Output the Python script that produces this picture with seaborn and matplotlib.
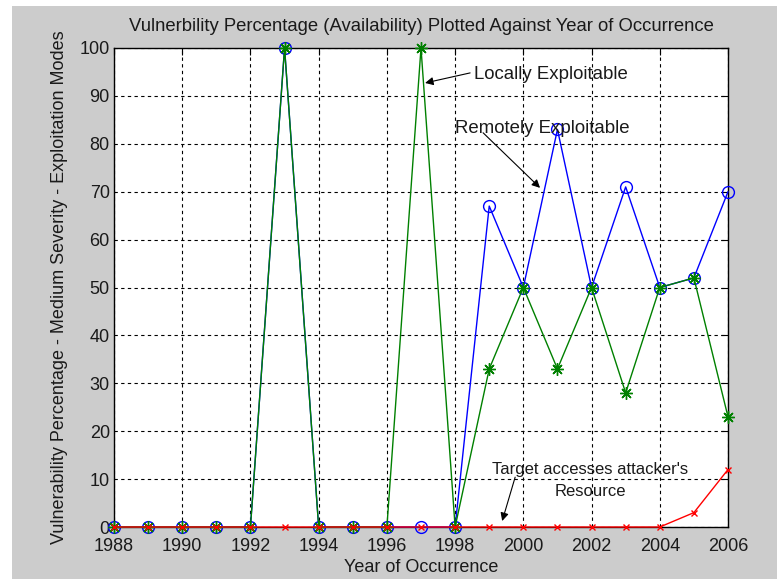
import matplotlib
matplotlib.use("Agg")
import matplotlib.pyplot as plt
import seaborn as sns
from matplotlib.patches import Rectangle

years = list(range(1988, 2007))
remote = [0, 0, 0, 0, 0, 100, 0, 0, 0, 0, 0, 67, 50, 83, 50, 71, 50, 52, 70]
local = [0, 0, 0, 0, 0, 100, 0, 0, 0, 100, 0, 33, 50, 33, 50, 28, 50, 52, 23]
target = [0, 0, 0, 0, 0, 0, 0, 0, 0, 0, 0, 0, 0, 0, 0, 0, 0, 3, 12]
x_ticks = list(range(1988, 2007, 2))
y_ticks = list(range(0, 101, 10))

sns.set_style("white")
plt.rcParams['font.family'] = ['Liberation Sans', 'DejaVu Sans']

fig = plt.figure(figsize=(7.77, 5.79), dpi=100, facecolor='white')
fig.patches.append(Rectangle((12/777, 0), 1, 1 - 6/579, transform=fig.transFigure,
                             facecolor='#cccccc', edgecolor='none', zorder=-10))
ax = fig.add_axes([114/777, 1 - 527/579, (728-114)/777, (527-48)/579])
ax.set_facecolor('white')

sns.lineplot(x=years, y=remote, ax=ax, color='#0000ff', marker='o', markersize=8.5,
             markerfacecolor='none', markeredgecolor='#0000ff', markeredgewidth=1,
             linewidth=1, clip_on=False, zorder=3)
sns.lineplot(x=years, y=local, ax=ax, color='#008000', marker=(8, 2, 0), markersize=9,
             markeredgecolor='#008000', markeredgewidth=1,
             linewidth=1, clip_on=False, zorder=4)
sns.lineplot(x=years, y=target, ax=ax, color='#ff0000', marker='x', markersize=5,
             markeredgecolor='#ff0000', markeredgewidth=1,
             linewidth=1, clip_on=False, zorder=5)

ax.set_xlim(1988, 2006)
ax.set_ylim(0, 100)
ax.set_xticks(x_ticks)
ax.set_yticks(y_ticks)
ax.grid(True, color='black', linestyle=(0, (3, 3)), linewidth=0.8)
ax.set_axisbelow(True)
for s in ax.spines.values():
    s.set_visible(True)
    s.set_color('black')
    s.set_linewidth(1)
ax.tick_params(direction='in', length=5, width=0.8, top=True, right=True,
               labelsize=13, colors='black', labelcolor='#1a1a1a')
ax.tick_params(axis='x', pad=8)
ax.tick_params(axis='y', pad=3)

ax.set_title('Vulnerbility Percentage (Availability) Plotted Against Year of Occurrence',
             fontsize=13.3, color='#1a1a1a', pad=12)
ax.set_xlabel('Year of Occurrence', fontsize=13, color='#1a1a1a', labelpad=3)
ax.set_ylabel('Vulnerability Percentage - Medium Severity - Exploitation Modes',
              fontsize=13, color='#1a1a1a', labelpad=8)

arrow = dict(arrowstyle='-|>', color='black', lw=0.8, mutation_scale=12,
             shrinkA=0, shrinkB=0)
# Locally Exploitable
ax.text(1998.55, 94.4, 'Locally Exploitable', ha='left', va='center',
        fontsize=13.4, color='#1a1a1a')
ax.annotate('', xy=(1997.12, 92.7), xytext=(1998.44, 94.8),
            arrowprops=arrow, annotation_clip=False)
# Remotely Exploitable
ax.text(1998.0, 83.1, 'Remotely Exploitable', ha='left', va='center',
        fontsize=13.4, color='#1a1a1a')
ax.annotate('', xy=(2000.49, 70.8), xytext=(1998.82, 82.3),
            arrowprops=arrow, annotation_clip=False)
# Target accesses attacker's Resource
ax.text(2001.96, 9.7, "Target accesses attacker's\nResource", ha='center', va='center',
        fontsize=12, color='#1a1a1a', linespacing=1.55)
ax.annotate('', xy=(1999.38, 1.25), xytext=(1999.76, 10.4),
            arrowprops=arrow, annotation_clip=False)

fig.savefig('out.png', dpi=100, facecolor=fig.get_facecolor())
